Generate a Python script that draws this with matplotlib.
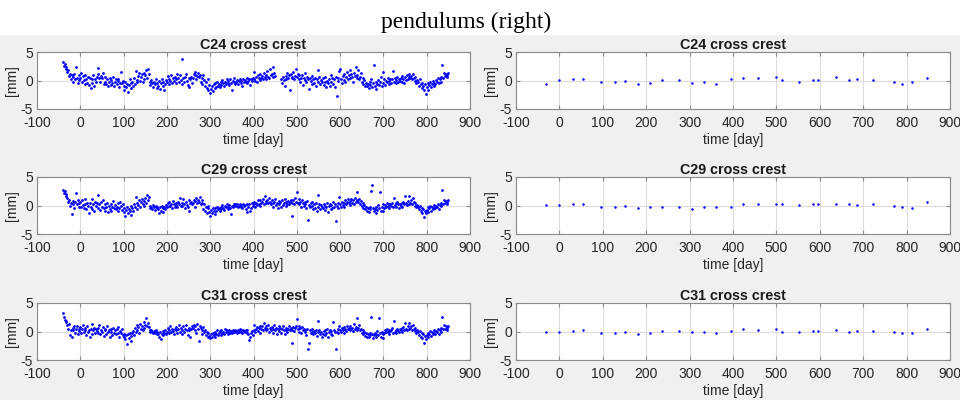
import numpy as np
import matplotlib
matplotlib.use("Agg")
import matplotlib.pyplot as plt
from matplotlib.patches import Rectangle

plt.rcParams['font.family'] = ['Liberation Sans', 'DejaVu Sans']
plt.rcParams['axes.unicode_minus'] = False

# ---------------- data ----------------
titles = ["C24 cross crest", "C29 cross crest", "C31 cross crest"]
x_ticks = [-100, 0, 100, 200, 300, 400, 500, 600, 700, 800, 900]
y_ticks = [-5, 0, 5]

# daily-ish readings (every 2 days from day -40 to 850)
day_start, day_end, day_step = -40, 850, 2
nan = float('nan')

c24_left = [
    3.3, 2.6, 2.9, 2.1, 2.4, 1.5, 1.9, 0.8, 1.2, 0.3,
    0.9, -0.3, 0.6, 1.1, 0.2, 2.4, 0.5, -0.5, 0.9, 0.1,
    0.4, 1.3, -0.2, 0.8, 0.1, -0.6, 1.0, 0.3, -0.4, 0.7,
    -0.8, 0.5, -1.4, 0.2, -0.5, 0.9, -1.0, 0.3, -0.2, 0.6,
    1.2, 2.2, 0.4, -0.3, 0.8, 0.5, 1.3, -0.6, 0.7, -0.2,
    -0.6, 0.3, -1.0, -0.2, 0.4, -0.8, 0.1, -0.4, 0.6, -0.9,
    -0.3, 0.2, -0.7, -0.1, 0.3, -1.1, -0.4, 1.5, -0.5, 0.0,
    -0.9, -1.6, -0.3, -1.2, -0.6, -2.0, -0.8, 0.2, -1.4, -0.5,
    -0.2, -1.0, 0.4, -0.6, 1.6, 0.1, -0.3, 0.8, 1.3, -0.1,
    0.6, 1.1, -0.2, 1.4, 0.3, 0.9, 1.8, 0.5, 2.0, 1.2,
    -0.3, -0.8, 0.1, -0.5, -1.1, -0.2, -0.6, 0.3, -1.3, -0.4,
    -0.9, -0.1, -1.5, -0.5, 0.2, -1.0, -0.3, -1.6, -0.7, 0.1,
    -0.2, 0.8, -0.6, 0.3, 0.0, 1.0, -0.4, 0.5, -0.1, 0.6,
    0.2, -0.5, 1.2, 0.4, -0.2, 0.9, 0.1, -0.7, 3.8, 0.5,
    -0.3, 0.7, 1.1, 0.0, -0.8, 0.4, -1.2, 0.2, 0.6, -0.4,
    0.5, 1.2, 0.9, 1.5, 0.3, 0.8, 1.4, 0.6, 1.0, -0.2,
    0.4, -0.6, 0.9, 0.1, -0.9, -0.3, -1.4, 0.2, -1.7, -0.8,
    -2.2, -1.5, -1.0, -1.8, -0.7, -1.3, -0.5, -1.1, -0.2, -0.9,
    -0.6, -1.2, -0.3, -0.8, 0.1, -0.5, -1.0, -0.2, -0.7, 0.2,
    -0.4, -0.1, -0.8, 0.3, -0.5, -1.6, 0.0, -0.3, 0.4, -0.6,
    -0.2, 0.1, -0.7, -0.1, 0.3, -0.4, 0.0, -0.9, 0.2, -0.3,
    0.1, -0.2, 0.4, -0.5, 0.0, 0.3, -0.8, 0.2, -0.1, 0.5,
    0.3, 1.5, 0.0, 0.6, -0.2, 0.9, 0.4, 0.1, 1.1, 0.5,
    0.8, 0.2, 1.3, 0.6, 1.0, 0.3, 1.6, 0.7, 0.4, 2.1,
    0.9, 1.2, 2.3, 0.6, 1.4, 0.8, nan, nan, nan, nan,
    nan, nan, 0.2, -0.4, 0.6, 0.1, -0.9, 0.8, 0.3, 1.3,
    0.5, 0.9, -1.6, 1.1, 0.4, 0.7, 1.5, 0.2, 0.8, 2.0,
    0.6, 1.2, 0.3, 0.9, -0.2, 0.5, 1.0, -0.8, 0.4, 0.1,
    1.4, -0.3, 0.6, 0.2, -1.5, 0.4, -0.1, 0.8, -0.6, 0.3,
    -0.4, 0.5, -0.9, 0.2, 1.9, -0.2, 0.6, -0.7, 0.1, -0.3,
    0.4, -0.8, -0.2, 0.7, -1.2, 0.0, -0.5, 0.3, -0.9, 1.0,
    -0.3, 0.5, -0.6, 0.2, -1.1, 0.6, -2.8, -0.1, 0.4, 1.7,
    2.1, 0.3, -0.4, 0.8, 0.1, 1.1, -0.2, 0.6, 1.5, 0.2,
    0.9, 1.8, 0.4, 1.2, 0.6, -0.3, 1.4, 0.8, 2.4, 0.5,
    1.0, 1.9, 0.3, 0.7, 1.3, -0.2, 0.5, -0.6, 0.1, -0.9,
    -0.4, -1.0, -0.7, -1.3, -0.2, -0.8, 0.2, -1.1, -0.5, 2.7,
    -0.9, -0.3, -1.5, -0.6, 0.1, -0.8, -0.2, 0.6, -1.0, 1.5,
    -0.5, 0.2, -0.8, 0.0, -0.3, 0.5, -0.6, -0.1, 0.3, -0.4,
    0.2, 1.7, -0.2, 0.4, -0.5, 0.1, 0.6, -0.3, 0.3, 0.0,
    0.5, -0.2, 0.8, 0.2, -0.4, 0.6, 0.1, 1.0, 0.3, 0.7,
    1.1, 0.4, 0.8, 0.2, 1.2, 0.5, -0.1, 0.6, -0.4, 0.1,
    -0.3, -0.9, 0.2, -0.6, -1.3, -0.4, -1.0, -1.6, -0.7, -2.3,
    -1.1, -0.5, -1.7, -0.8, -0.2, -1.2, -0.6, 0.0, -0.9, -0.4,
    -0.7, 0.1, -0.3, 0.4, -0.5, 0.2, 0.6, -0.2, 2.7, 0.5,
    1.4, 0.8, 1.2, 0.6, 1.0, 1.3,
]

c29_left = [
    2.8, 2.2, 2.5, 1.7, 2.0, 1.4, 0.6, 1.0, -0.1, 0.5,
    -1.5, 0.3, 0.8, -0.4, 0.6, 2.2, 0.2, 1.0, -0.3, 0.4,
    0.6, -0.2, 0.9, 0.1, -0.5, 1.2, 0.3, -0.7, 0.5, 0.0,
    -1.3, 0.4, -0.3, 1.1, -0.6, 0.2, -0.9, 0.7, 0.0, 0.5,
    -0.4, 1.8, 0.3, -0.8, 0.6, -0.2, 1.0, -0.5, 0.2, -1.0,
    -0.3, 0.5, -1.1, 0.0, -0.6, 0.3, -0.9, -0.2, 0.8, -0.5,
    0.1, -0.7, -0.2, 0.4, -1.0, -0.4, 0.6, -0.1, -0.8, 0.2,
    -1.2, -0.5, -1.8, -0.8, -0.3, -1.4, -0.6, -1.0, 0.0, -1.6,
    -0.4, -0.9, 0.3, -0.2, 1.5, -0.6, 0.5, 0.1, 0.9, -0.3,
    0.7, 1.1, 0.2, 0.8, -0.1, 1.3, 0.5, 1.9, 0.9, 1.5,
    0.0, -0.4, -0.2, -0.6, 0.1, -0.3, -0.8, -0.1, -0.5, -0.2,
    -0.7, -1.4, -0.3, -0.9, 0.0, -0.5, -1.2, -0.2, -0.6, 0.1,
    -0.3, 0.4, -0.1, 0.6, 0.0, 0.3, -0.4, 0.8, 0.2, -0.2,
    0.5, 0.1, -0.3, 0.7, 0.2, 1.4, -0.1, 0.4, 0.0, 1.2,
    0.3, -0.5, 0.6, 0.1, -0.3, 0.9, -1.0, 0.4, 0.7, 0.2,
    0.5, 1.0, -0.2, 0.8, 1.3, 0.4, 0.9, 0.6, 1.5, 0.2,
    1.0, 0.5, -0.6, 0.3, -0.9, -0.2, -1.3, 0.0, -0.5, -1.1,
    -1.8, -0.8, -1.3, -0.5, -1.0, -1.5, -0.4, -0.9, -0.2, -0.7,
    -0.5, -1.0, -0.2, -0.7, 0.1, -0.4, -0.8, 0.0, -0.3, 0.2,
    -0.6, -0.2, 0.1, -0.4, -1.5, 0.0, -0.3, 0.3, -0.1, 0.2,
    -0.1, 0.2, -0.3, 0.0, 0.3, -0.2, 0.1, -0.4, 0.2, 0.0,
    0.1, -0.6, 0.3, -1.2, -0.2, 0.2, -0.9, -0.4, 0.4, -0.1,
    0.2, 0.7, -0.3, 0.5, 0.1, 0.9, 0.3, -0.1, 1.0, 0.4,
    0.6, 1.2, 0.3, 1.6, 0.8, 0.4, 1.0, 0.5, 1.4, 0.7,
    0.2, 0.9, 0.4, -0.2, 0.7, 1.1, 0.1, 0.5, -0.4, 0.8,
    0.3, 0.6, -0.3, 0.9, 0.1, 0.5, 1.2, -0.1, 0.7, 0.3,
    0.8, 0.2, 0.6, 1.0, 0.4, -1.8, 0.9, 0.3, 1.4, 0.6,
    2.3, 0.5, 1.1, 0.2, 0.7, -0.2, 0.9, 0.4, 0.0, 0.6,
    0.3, -0.5, 0.8, -2.6, 0.1, -0.3, 0.5, -0.1, 0.7, -0.6,
    0.2, -0.4, 0.4, -1.0, 1.9, -0.2, 0.3, -0.7, 0.1, -0.3,
    -0.5, 0.2, -0.8, 0.0, -0.3, 0.5, -1.2, -0.1, 0.3, -0.6,
    0.1, -0.4, 0.6, -0.2, 0.2, -2.8, 0.0, -0.5, 0.4, 1.5,
    0.3, -0.2, 0.7, 0.1, 0.5, -0.3, 0.9, 0.2, 0.6, 1.2,
    0.4, 0.8, 0.1, 1.1, 0.5, 0.9, 0.2, 1.4, 0.6, 1.0,
    2.3, 0.7, 1.2, 0.3, 0.8, -0.1, 0.4, -0.4, 0.1, -0.7,
    -0.3, -0.9, -0.5, -1.1, -0.2, -0.7, 2.6, 3.6, -0.4, -1.0,
    -0.6, -0.2, -1.3, -0.8, 0.1, -0.5, 2.4, -0.9, -0.3, 0.2,
    -1.0, -0.4, 0.1, -0.2, 0.4, -0.1, 0.3, -0.5, 0.2, 0.0,
    0.5, -0.3, 1.3, 0.1, 0.4, -0.2, 0.6, 0.2, -0.4, 0.3,
    0.0, 0.5, -0.2, 0.7, 0.2, 1.6, 0.4, 0.1, 0.8, 0.3,
    1.6, 0.5, 0.9, 0.2, 1.3, 0.6, 0.0, 0.4, -0.3, 0.1,
    -0.2, -0.7, 0.0, -1.0, -0.4, -1.3, -0.6, -2.0, -0.9, -1.4,
    -0.8, -0.3, -1.2, -0.5, 0.0, -0.9, -0.2, -0.6, 0.1, -0.4,
    -0.5, 0.0, -0.2, 0.3, -0.6, 0.1, 0.5, -0.1, 2.8, 0.3,
    1.0, 0.4, 0.8, 0.2, 0.6, 1.0,
]

c31_left = [
    3.2, 2.5, 2.0, 1.6, 1.9, 1.1, 0.5, 1.3, -0.6, 0.3,
    -0.9, 0.6, 0.2, 0.9, -0.2, 0.4, 1.0, -0.4, 0.5, 0.1,
    0.8, -0.3, 0.4, 1.1, -0.1, 0.6, 0.2, -0.7, 0.9, 0.0,
    0.3, -1.0, 0.5, 1.3, -0.4, 0.2, 0.7, -0.2, 0.4, 0.1,
    -0.3, 0.6, 1.1, -0.5, 0.3, -0.1, 0.8, -0.8, 0.2, 0.5,
    -0.4, 0.9, -0.1, 0.3, -0.9, 0.4, 0.0, -0.6, 0.7, -0.2,
    0.2, -0.5, 0.5, -0.2, 0.8, -0.9, 0.1, -0.3, 0.4, -0.7,
    -1.0, -0.4, -1.3, -0.7, -2.2, -0.5, -1.1, -0.2, -0.8, -1.6,
    -0.3, 0.1, -0.6, 0.6, -0.1, 1.2, 0.3, 0.8, -0.2, 1.4,
    0.5, 1.0, 0.2, 1.7, 0.7, 1.2, 2.3, 0.9, 1.5, 0.8,
    0.2, -0.1, 0.3, 0.0, -0.3, 0.1, -0.2, 0.2, -0.5, 0.0,
    -0.4, -0.9, -0.1, -1.3, -0.5, 0.1, -0.7, -0.2, 0.3, -0.4,
    0.0, 0.6, -0.3, 0.3, 0.9, -0.1, 0.4, 0.1, -0.5, 0.5,
    0.2, 0.8, -0.2, 0.4, 1.2, 0.0, 0.6, -0.4, 0.3, 0.9,
    -0.1, 0.5, 1.1, 0.2, -0.6, 0.7, 0.3, -0.9, 0.4, 1.0,
    0.6, 1.2, 0.3, 0.9, -0.2, 1.3, 0.5, -1.6, 1.0, 0.7,
    0.2, -0.4, 0.8, -0.1, 0.3, -0.7, 0.0, -1.0, -0.3, -0.8,
    -1.2, -0.5, -0.9, -0.2, -0.6, -1.0, -0.1, -0.4, 0.2, -0.7,
    -0.3, 0.1, -0.6, 0.3, -0.2, 0.0, -0.5, 0.4, -0.1, 0.2,
    -0.4, 0.0, 0.3, -0.2, 0.1, -0.3, 0.2, 0.0, -0.1, 0.3,
    0.1, -0.2, 0.2, 0.0, 0.4, -0.1, 0.2, -0.3, 0.3, 0.1,
    0.0, 0.3, -0.2, 0.2, -0.5, -1.5, -0.9, -0.3, 0.1, -0.6,
    0.2, 1.2, -0.1, 0.5, 0.8, 0.1, 0.6, -0.2, 0.9, 0.4,
    1.0, 0.3, 1.5, 0.6, 0.2, 0.9, 0.4, 1.2, -0.1, 0.7,
    0.3, 0.8, -0.3, 0.5, 1.1, 0.2, 0.6, -0.5, 0.4, 0.9,
    0.1, 0.7, -0.2, 0.4, 1.0, 0.2, -0.4, 0.6, 0.3, -0.1,
    0.5, 0.9, 0.2, 0.6, -2.0, 0.3, 0.8, 0.1, 0.6, 1.0,
    2.2, 0.4, 0.9, 0.0, 0.6, -0.3, 0.8, 0.2, 0.5, -0.1,
    0.3, -0.6, 0.5, -3.0, -2.0, 0.2, -0.2, 0.4, 0.0, -0.5,
    0.1, -0.3, 0.3, -0.8, 1.8, -0.1, 0.2, -0.5, 0.0, -1.0,
    -0.4, 0.1, -0.7, 0.2, -0.2, 0.4, -0.9, 0.0, 0.3, -0.4,
    0.1, -0.6, 1.7, 0.2, -0.1, -3.0, 0.0, 0.4, -0.2, 1.0,
    0.3, 0.0, 0.6, 0.2, 0.8, -0.2, 0.5, 0.1, 0.9, 0.4,
    0.7, 0.2, 1.0, 0.4, 0.6, 0.1, 1.3, 0.5, 0.8, 0.3,
    2.4, 0.6, 1.1, 0.2, 0.5, -0.2, 0.3, -0.5, 0.0, -0.8,
    -0.3, -0.9, -0.5, -1.0, -0.2, -0.7, 2.5, -0.4, -1.1, -0.6,
    -0.2, -0.9, -0.4, 0.1, -0.7, 2.4, -0.3, -1.0, 0.0, -0.5,
    -1.2, -0.3, 0.2, -0.1, 0.4, 0.0, 0.3, -0.4, 0.1, 0.2,
    0.6, -0.2, 1.8, 0.0, 0.3, -0.3, 0.5, 0.1, -0.1, 0.4,
    0.2, 0.6, -0.1, 0.8, 0.3, 1.5, 0.5, 0.2, 0.9, 0.4,
    1.5, 0.6, 1.0, 0.3, 1.2, 0.5, 0.1, 0.6, -0.2, 0.2,
    -0.1, -0.6, 0.1, -0.9, -0.3, -1.2, -0.5, -2.0, -0.8, -1.3,
    -0.7, -0.2, -1.0, -0.4, 0.1, -0.8, -0.1, -0.5, 0.2, -0.3,
    -0.4, 0.1, -0.1, 0.4, -0.5, 0.2, 0.6, 0.0, 2.6, 0.4,
    1.1, 0.5, 0.9, 0.3, 0.7, 1.0,
]

# sparse readings (right column)
days_right = [-32, -2, 32, 55, 95, 127, 151, 180, 208, 236, 276, 305, 334, 360,
              395, 422, 458, 498, 513, 553, 584, 595, 638, 667, 686, 723, 770,
              789, 812, 846]
c24_right = [-0.7, 0.05, 0.2, 0.3, -0.2, -0.35, -0.1, -0.7, -0.4, 0.05, 0.15,
             -0.45, -0.25, -0.6, 0.25, 0.45, 0.4, 0.55, 0.05, -0.35, 0.1, 0.15,
             0.55, 0.1, 0.35, 0.15, -0.2, -0.65, -0.35, 0.45]
c29_right = [0.1, 0.1, 0.35, 0.35, -0.35, -0.3, -0.1, -0.4, -0.3, -0.2, -0.25,
             -0.55, -0.2, -0.35, -0.2, 0.25, 0.3, 0.25, 0.25, 0.05, 0.3, 0.25,
             0.35, 0.25, 0.1, 0.25, -0.1, -0.35, -0.5, 0.6]
c31_right = [-0.05, -0.05, 0.1, 0.2, -0.25, -0.25, 0.0, -0.5, -0.25, 0.15, 0.15,
             -0.05, -0.1, -0.3, 0.1, 0.45, 0.35, 0.45, 0.0, -0.05, 0.1, 0.1,
             0.3, -0.05, 0.15, 0.1, -0.05, -0.25, -0.2, 0.45]

days_left = np.arange(day_start, day_end + 1, day_step)
left_series = [c24_left, c29_left, c31_left]
right_series = [c24_right, c29_right, c31_right]

# ---------------- figure ----------------
W, H = 960, 400
fig = plt.figure(figsize=(W / 100, H / 100), dpi=100)
fig.patch.set_facecolor('white')
bg = Rectangle((0, 0), 1, 1 - 35 / H, transform=fig.transFigure,
               facecolor='#f0f0f0', edgecolor='none', zorder=-10)
fig.add_artist(bg)
fig.text(466 / W, 1 - 22 / H, "pendulums (right)", family='Liberation Serif',
         fontsize=17, ha='center', va='center', color='black')

axis_col = '#8a8a8a'
text_col = '#262626'
rows_top = [52, 177, 303]
ax_h = 57
cols = [(37, 470), (516, 950)]

for r in range(3):
    for c in range(2):
        x0, x1 = cols[c]
        ax = fig.add_axes([x0 / W, 1 - (rows_top[r] + ax_h) / H, (x1 - x0) / W, ax_h / H],
                          zorder=1)
        ax.set_facecolor('white')
        if c == 0:
            ax.plot(days_left, left_series[r], '.', color='#0000ff', ms=4.0, mew=0)
        else:
            ax.plot(days_right, right_series[r], '.', color='#0000ff', ms=3.6, mew=0)
        ax.set_xlim(-100, 900)
        ax.set_ylim(-5, 5)
        ax.set_xticks(x_ticks)
        ax.set_yticks(y_ticks)
        ax.grid(True, color='#dcdcdc', lw=0.8)
        ax.set_axisbelow(True)
        ax.tick_params(direction='in', length=3, width=0.8, colors=axis_col,
                       labelcolor=text_col, labelsize=10, top=True, right=True)
        ax.tick_params(axis='x', pad=5)
        ax.tick_params(axis='y', pad=3)
        for s in ax.spines.values():
            s.set_color(axis_col)
            s.set_linewidth(0.8)
        ax.set_title(titles[r], fontsize=10.3, fontweight='bold', color='#1a1a1a', pad=2)
        ax.set_xlabel("time [day]", fontsize=10, color=text_col, labelpad=2)
        ax.set_ylabel("[mm]", fontsize=10, color=text_col, labelpad=1)

fig.savefig("out.png", dpi=100, facecolor=fig.get_facecolor())
